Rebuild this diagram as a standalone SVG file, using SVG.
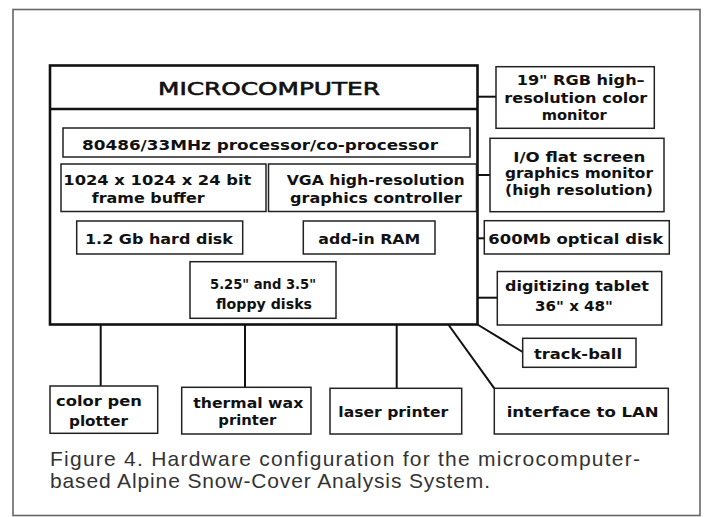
<svg xmlns="http://www.w3.org/2000/svg" width="704" height="517" viewBox="0 0 704 517">
<style>
.frame{fill:#ffffff;stroke:#666;stroke-width:1.6}
.main{fill:none;stroke:#111;stroke-width:2.6}
.box{fill:#fff;stroke:#222;stroke-width:1.5}
.conn{fill:none;stroke:#111;stroke-width:2}
.lbl{font-family:"DejaVu Sans","Liberation Sans",Arial,sans-serif;font-weight:bold;font-size:14px;fill:#111}
.title{font-family:"DejaVu Sans","Liberation Sans",Arial,sans-serif;font-weight:normal;font-size:18px;fill:#111;stroke:#111;stroke-width:0.6}
.cap{font-family:"Liberation Sans",Arial,sans-serif;font-size:21px;fill:#333}
</style>
<rect x="0" y="0" width="704" height="517" fill="#ffffff"/>
<rect class="frame" x="13" y="9.5" width="687" height="506"/>

<g id="connectors">
  <line class="conn" x1="477.5" y1="96.7" x2="496" y2="96.7"/>
  <line class="conn" x1="477.5" y1="175" x2="490" y2="175"/>
  <line class="conn" x1="477.5" y1="238.3" x2="484.3" y2="238.3"/>
  <line class="conn" x1="477.5" y1="297.7" x2="497.3" y2="297.7"/>
  <line class="conn" x1="477.5" y1="324.5" x2="522.7" y2="352"/>
  <line class="conn" x1="448.3" y1="324.5" x2="494.3" y2="388.3"/>
  <line class="conn" x1="100.7" y1="324.5" x2="100.7" y2="386"/>
  <line class="conn" x1="245" y1="324.5" x2="245" y2="387.3"/>
  <line class="conn" x1="396.7" y1="324.5" x2="396.7" y2="388.3"/>
</g>

<g id="microcomputer">
  <rect class="main" x="50" y="65.5" width="427.5" height="259"/>
  <line class="main" x1="50" y1="109" x2="477.5" y2="109"/>
  <text class="title" x="158" y="95" textLength="222" lengthAdjust="spacingAndGlyphs">MICROCOMPUTER</text>
</g>

<g id="processor">
  <rect class="box" x="63" y="128" width="407" height="29"/>
  <text class="lbl" x="82" y="150" textLength="356" lengthAdjust="spacingAndGlyphs">80486/33MHz processor/co-processor</text>
</g>

<g id="frame-buffer">
  <rect class="box" x="61" y="164" width="205" height="47.5"/>
  <text class="lbl" x="63.3" y="185" textLength="188" lengthAdjust="spacingAndGlyphs">1024 x 1024 x 24 bit</text>
  <text class="lbl" x="91.7" y="203" textLength="113" lengthAdjust="spacingAndGlyphs">frame buffer</text>
</g>

<g id="vga">
  <rect class="box" x="268.5" y="164" width="208" height="47.5"/>
  <text class="lbl" x="286.7" y="185" textLength="178" lengthAdjust="spacingAndGlyphs">VGA high-resolution</text>
  <text class="lbl" x="290" y="203" textLength="172" lengthAdjust="spacingAndGlyphs">graphics controller</text>
</g>

<g id="hard-disk">
  <rect class="box" x="76.7" y="221" width="166" height="33"/>
  <text class="lbl" x="85" y="244" textLength="148" lengthAdjust="spacingAndGlyphs">1.2 Gb hard disk</text>
</g>

<g id="ram">
  <rect class="box" x="303.3" y="221" width="131.7" height="33"/>
  <text class="lbl" x="318.3" y="244" textLength="102" lengthAdjust="spacingAndGlyphs">add-in RAM</text>
</g>

<g id="floppy">
  <rect class="box" x="190" y="261.7" width="146" height="56.6"/>
  <text class="lbl" x="210" y="289" textLength="106" lengthAdjust="spacingAndGlyphs">5.25" and 3.5"</text>
  <text class="lbl" x="216" y="309" textLength="96" lengthAdjust="spacingAndGlyphs">floppy disks</text>
</g>

<g id="rgb-monitor">
  <rect class="box" x="496" y="66.7" width="158.3" height="61.6"/>
  <text class="lbl" x="516.7" y="85" textLength="128" lengthAdjust="spacingAndGlyphs">19" RGB high–</text>
  <text class="lbl" x="504.3" y="103" textLength="143" lengthAdjust="spacingAndGlyphs">resolution color</text>
  <text class="lbl" x="541.7" y="120" textLength="65" lengthAdjust="spacingAndGlyphs">monitor</text>
</g>

<g id="flat-screen">
  <rect class="box" x="490" y="138.3" width="174" height="73.4"/>
  <text class="lbl" x="513.3" y="161.5" textLength="132" lengthAdjust="spacingAndGlyphs">I/O flat screen</text>
  <text class="lbl" x="505" y="178" textLength="148" lengthAdjust="spacingAndGlyphs">graphics monitor</text>
  <text class="lbl" x="505" y="195" textLength="148" lengthAdjust="spacingAndGlyphs">(high resolution)</text>
</g>

<g id="optical-disk">
  <rect class="box" x="484.3" y="220.7" width="185" height="33.3"/>
  <text class="lbl" x="488.3" y="243.5" textLength="175" lengthAdjust="spacingAndGlyphs">600Mb optical disk</text>
</g>

<g id="digitizing-tablet">
  <rect class="box" x="497.3" y="271.5" width="164.4" height="53.5"/>
  <text class="lbl" x="505" y="291" textLength="144" lengthAdjust="spacingAndGlyphs">digitizing tablet</text>
  <text class="lbl" x="535" y="311" textLength="78" lengthAdjust="spacingAndGlyphs">36" x 48"</text>
</g>

<g id="track-ball">
  <rect class="box" x="522.7" y="338.3" width="113.3" height="29"/>
  <text class="lbl" x="534" y="359" textLength="88" lengthAdjust="spacingAndGlyphs">track-ball</text>
</g>

<g id="lan">
  <rect class="box" x="494.3" y="388.3" width="174" height="45.7"/>
  <text class="lbl" x="506.7" y="417" textLength="152" lengthAdjust="spacingAndGlyphs">interface to LAN</text>
</g>

<g id="pen-plotter">
  <rect class="box" x="50" y="386" width="107.7" height="47.3"/>
  <text class="lbl" x="56" y="405.5" textLength="86" lengthAdjust="spacingAndGlyphs">color pen</text>
  <text class="lbl" x="69" y="425.5" textLength="59" lengthAdjust="spacingAndGlyphs">plotter</text>
</g>

<g id="wax-printer">
  <rect class="box" x="181.7" y="387.3" width="129.3" height="46.7"/>
  <text class="lbl" x="193.3" y="407.5" textLength="110" lengthAdjust="spacingAndGlyphs">thermal wax</text>
  <text class="lbl" x="218.3" y="425" textLength="58" lengthAdjust="spacingAndGlyphs">printer</text>
</g>

<g id="laser-printer">
  <rect class="box" x="330" y="388.3" width="131.7" height="45.7"/>
  <text class="lbl" x="338.3" y="416.5" textLength="110" lengthAdjust="spacingAndGlyphs">laser printer</text>
</g>

<g id="caption">
  <text class="cap" x="50" y="466" textLength="590">Figure 4. Hardware configuration for the microcomputer-</text>
  <text class="cap" x="50" y="488" textLength="440">based Alpine Snow-Cover Analysis System.</text>
</g>
</svg>
